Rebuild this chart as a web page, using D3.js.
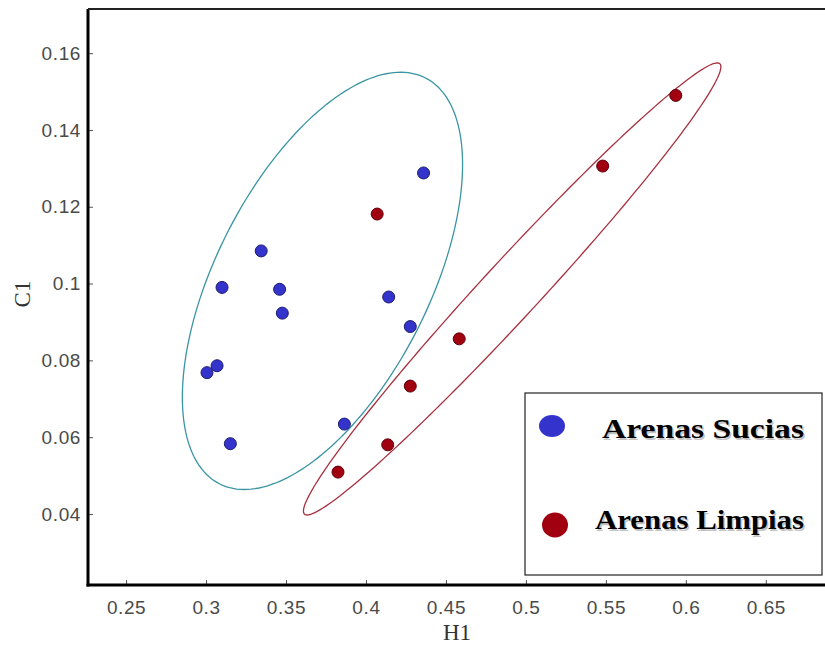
<!DOCTYPE html>
<html>
<head>
<meta charset="utf-8">
<script src="https://cdn.jsdelivr.net/npm/d3@7/dist/d3.min.js"></script>
<style>
  html, body { margin: 0; padding: 0; background: #fff; }
  svg { display: block; }
</style>
</head>
<body>
<svg id="chart" width="825" height="648"></svg>
<script>
// ---- data ----
const seriesNames = ["Arenas Sucias", "Arenas Limpias"];
const suciasH1 = [0.436, 0.3345, 0.310, 0.346, 0.3477, 0.4142, 0.4277, 0.3069, 0.3006, 0.3865, 0.3152];
const suciasC1 = [0.1288, 0.1085, 0.0990, 0.0985, 0.0923, 0.0965, 0.0888, 0.0786, 0.0768, 0.0634, 0.0583];
const limpiasH1 = [0.407, 0.4583, 0.4277, 0.4136, 0.3825, 0.548, 0.5937];
const limpiasC1 = [0.1181, 0.0856, 0.0733, 0.0580, 0.0509, 0.1306, 0.1490];
const xTicks = [0.25, 0.3, 0.35, 0.4, 0.45, 0.5, 0.55, 0.6, 0.65];
const yTicks = [0.04, 0.06, 0.08, 0.1, 0.12, 0.14, 0.16];
// confidence ellipses: centre and two conjugate semi-axis vectors (data units)
const suciasEllipseCenter = [0.3728, 0.1007];
const suciasEllipseA = [0.0876, 0.0303];
const suciasEllipseB = [0.0, -0.0451];
const limpiasEllipseCenter = [0.4914, 0.0986];
const limpiasEllipseA = [0.1305, 0.05785];
const limpiasEllipseB = [0.0, -0.01089];

// ---- layout ----
const svg = d3.select("#chart");
const mLeft = 88, mRight = 825, mTop = 9, mBottom = 585;
const x = d3.scaleLinear().domain([0.2262, 0.687]).range([mLeft, mRight]);
const y = d3.scaleLinear().domain([0.0215, 0.1715]).range([mBottom, mTop]);

const blueFill = "#3434cc", blueStroke = "#1c1c70";
const redFill = "#a0000f", redStroke = "#5e0008";
const tealLine = "#3a94a4", redLine = "#a8303e";

// ellipses
function ellipsePts(c, a, b) {
  const n = 200;
  return d3.range(n + 1).map(i => {
    const t = 2 * Math.PI * i / n;
    return [c[0] + a[0] * Math.cos(t) + b[0] * Math.sin(t),
            c[1] + a[1] * Math.cos(t) + b[1] * Math.sin(t)];
  });
}
const line = d3.line().x(d => x(d[0])).y(d => y(d[1])).curve(d3.curveLinearClosed);
svg.append("path").attr("d", line(ellipsePts(suciasEllipseCenter, suciasEllipseA, suciasEllipseB)))
  .attr("fill", "none").attr("stroke", tealLine).attr("stroke-width", 1.3);
svg.append("path").attr("d", line(ellipsePts(limpiasEllipseCenter, limpiasEllipseA, limpiasEllipseB)))
  .attr("fill", "none").attr("stroke", redLine).attr("stroke-width", 1.3);

// points
const sucias = suciasH1.map((v, i) => [v, suciasC1[i]]);
const limpias = limpiasH1.map((v, i) => [v, limpiasC1[i]]);
svg.append("g").selectAll("circle").data(sucias).join("circle")
  .attr("cx", d => x(d[0])).attr("cy", d => y(d[1])).attr("r", 6)
  .attr("fill", blueFill).attr("stroke", blueStroke).attr("stroke-width", 1);
svg.append("g").selectAll("circle").data(limpias).join("circle")
  .attr("cx", d => x(d[0])).attr("cy", d => y(d[1])).attr("r", 6)
  .attr("fill", redFill).attr("stroke", redStroke).attr("stroke-width", 1);

// axes
const xAxis = svg.append("g").attr("transform", `translate(0,${mBottom})`)
  .call(d3.axisBottom(x).tickValues(xTicks).tickFormat(d3.format("")).tickSize(-5).tickPadding(16));
const yAxis = svg.append("g").attr("transform", `translate(${mLeft},0)`)
  .call(d3.axisLeft(y).tickValues(yTicks).tickFormat(d3.format("")).tickSize(-5).tickPadding(7));
[xAxis, yAxis].forEach(g => {
  g.select(".domain").remove();
  g.selectAll(".tick line").attr("stroke", "#555").attr("stroke-width", 1);
  g.selectAll(".tick text").attr("font-family", "Liberation Sans, Arial, sans-serif")
    .attr("font-size", 19).attr("fill", "#4a4a4a").attr("letter-spacing", "0.6px");
});
// frame lines
svg.append("line").attr("x1", mLeft).attr("x2", mLeft).attr("y1", mTop).attr("y2", mBottom + 1.5)
  .attr("stroke", "#000").attr("stroke-width", 3);
svg.append("line").attr("x1", mLeft - 1.5).attr("x2", mRight).attr("y1", mBottom).attr("y2", mBottom)
  .attr("stroke", "#000").attr("stroke-width", 3);
svg.append("line").attr("x1", mLeft).attr("x2", mRight).attr("y1", mTop).attr("y2", mTop)
  .attr("stroke", "#222").attr("stroke-width", 2);

// axis titles
svg.append("text").attr("x", 457).attr("y", 640).attr("text-anchor", "middle")
  .attr("font-family", "Liberation Serif, Times New Roman, serif").attr("font-size", 23).attr("fill", "#333")
  .text("H1");
svg.append("text").attr("transform", "translate(30,294) rotate(-90)").attr("text-anchor", "middle")
  .attr("font-family", "Liberation Serif, Times New Roman, serif").attr("font-size", 23).attr("fill", "#333")
  .text("C1");

// legend
const lg = svg.append("g");
lg.append("rect").attr("x", 525).attr("y", 393).attr("width", 297).attr("height", 182)
  .attr("fill", "#fff").attr("stroke", "#333").attr("stroke-width", 1.3);
const legendItems = [
  { name: seriesNames[0], fill: blueFill, cx: 552, cy: 426, rx: 13, ry: 11, tx: 602, ty: 438 },
  { name: seriesNames[1], fill: redFill, cx: 555, cy: 525, rx: 13, ry: 12.5, tx: 595, ty: 529 }
];
legendItems.forEach(it => {
  lg.append("ellipse").attr("cx", it.cx).attr("cy", it.cy).attr("rx", it.rx).attr("ry", it.ry)
    .attr("fill", it.fill);
  lg.append("text").attr("x", it.tx + 1.5).attr("y", it.ty + 1.5)
    .attr("font-family", "Liberation Serif, Times New Roman, serif").attr("font-weight", "bold")
    .attr("font-size", 28).attr("fill", "#c4c4c4").attr("textLength", 804 - it.tx)
    .attr("lengthAdjust", "spacingAndGlyphs").text(it.name);
  lg.append("text").attr("x", it.tx).attr("y", it.ty)
    .attr("font-family", "Liberation Serif, Times New Roman, serif").attr("font-weight", "bold")
    .attr("font-size", 28).attr("fill", "#000").attr("textLength", 804 - it.tx)
    .attr("lengthAdjust", "spacingAndGlyphs").text(it.name);
});
</script>
</body>
</html>
